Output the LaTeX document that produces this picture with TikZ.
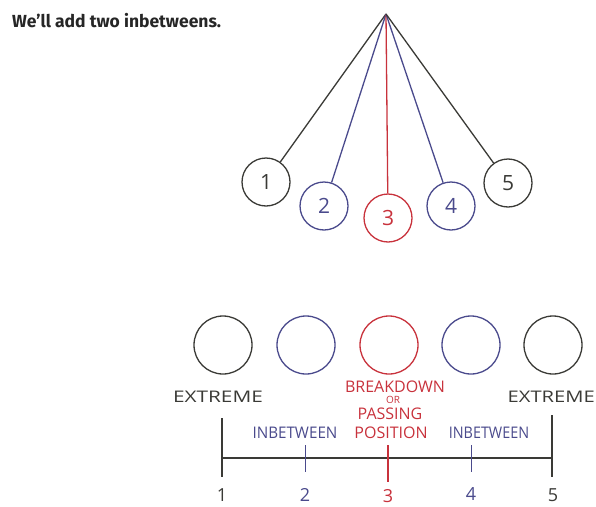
\documentclass[tikz,border=0pt]{standalone}
\usepackage{graphicx}
\usepackage{fontspec}
\setmainfont{Fira Sans}
\newfontfamily\hand{Open Sans}
\definecolor{ink}{HTML}{3A3A36}
\definecolor{blu}{HTML}{4A4A8C}
\definecolor{rd}{HTML}{C8323C}
\begin{document}
\begin{tikzpicture}[x=1pt,y=-1pt,
  pencil/.style={line width=1.3pt},
  ball/.style={circle,draw,pencil,minimum size=48pt,inner sep=0pt,font=\hand\fontsize{21}{21}\selectfont},
  bigball/.style={circle,draw,pencil,minimum size=58pt,inner sep=0pt},
  lab/.style={font=\hand\fontsize{16}{16}\selectfont,inner sep=0pt},
  num/.style={font=\hand\fontsize{18}{18}\selectfont,inner sep=0pt}]
\useasboundingbox (0,0) rectangle (596,506);
\node[anchor=west,inner sep=0pt,font=\bfseries\fontsize{17.5}{17.5}\selectfont,text=black!85] (title) at (12,21) {We’ll add two inbetweens.};
% pendulum
\coordinate (p) at (386,14);
\node[ball,ink] (t1) at (266,182) {1};
\node[ball,blu] (t2) at (324,206) {2};
\node[ball,rd] (t3) at (388,218) {3};
\node[ball,blu] (t4) at (451,206) {4};
\node[ball,ink] (t5) at (508,183) {5};
\draw[pencil,ink] (p) -- (t1);
\draw[pencil,blu] (p) -- (t2);
\draw[pencil,rd] (p) -- (t3);
\draw[pencil,blu] (p) -- (t4);
\draw[pencil,ink] (p) -- (t5);
% bottom row
\node[bigball,ink] (b1) at (223,345) {};
\node[bigball,blu] (b2) at (306,345) {};
\node[bigball,rd] (b3) at (389,345) {};
\node[bigball,blu] (b4) at (471,345) {};
\node[bigball,ink] (b5) at (553,345) {};
\node[lab,text=ink] (e1) at (218,397) {\scalebox{1.3}[1]{EXTREME}};
\node[lab,text=ink,anchor=east] (e5) at (595,397) {\scalebox{1.26}[1]{EXTREME}};
\node[lab,text=rd] (bd) at (395,387) {BREAKDOWN};
\node[lab,text=rd,font=\hand\fontsize{10}{10}\selectfont] (or) at (393,400) {OR};
\node[lab,text=rd] (ps) at (390,414) {PASSING};
\node[lab,text=rd] (po) at (391,433) {POSITION};
\node[lab,text=blu] (ib1) at (295,433) {\scalebox{0.95}[1]{INBETWEEN}};
\node[lab,text=blu] (ib2) at (489,433) {\scalebox{0.9}[1]{INBETWEEN}};
% timeline
\coordinate (l1t) at (222,418); \coordinate (l1b) at (222,477);
\coordinate (l5t) at (552,415); \coordinate (l5b) at (552,477);
\coordinate (l2t) at (305,445); \coordinate (l2b) at (305,472);
\coordinate (l3t) at (388,445); \coordinate (l3b) at (388,482);
\coordinate (l4t) at (471,445); \coordinate (l4b) at (471,472);
\coordinate (ha) at (222,458); \coordinate (hb) at (552,458);
\draw[pencil,ink] (ha) -- (hb);
\draw[pencil,ink] (l1t) -- (l1b);
\draw[pencil,ink] (l5t) -- (l5b);
\draw[line width=1pt,blu] (l2t) -- (l2b);
\draw[pencil,rd] (l3t) -- (l3b);
\draw[line width=1pt,blu] (l4t) -- (l4b);
\node[num,text=ink] (n1) at (222,495) {1};
\node[num,text=blu] (n2) at (305,495) {2};
\node[num,text=rd] (n3) at (388,496) {3};
\node[num,text=blu] (n4) at (471,494) {4};
\node[num,text=ink] (n5) at (553,495) {5};
\end{tikzpicture}
\end{document}
